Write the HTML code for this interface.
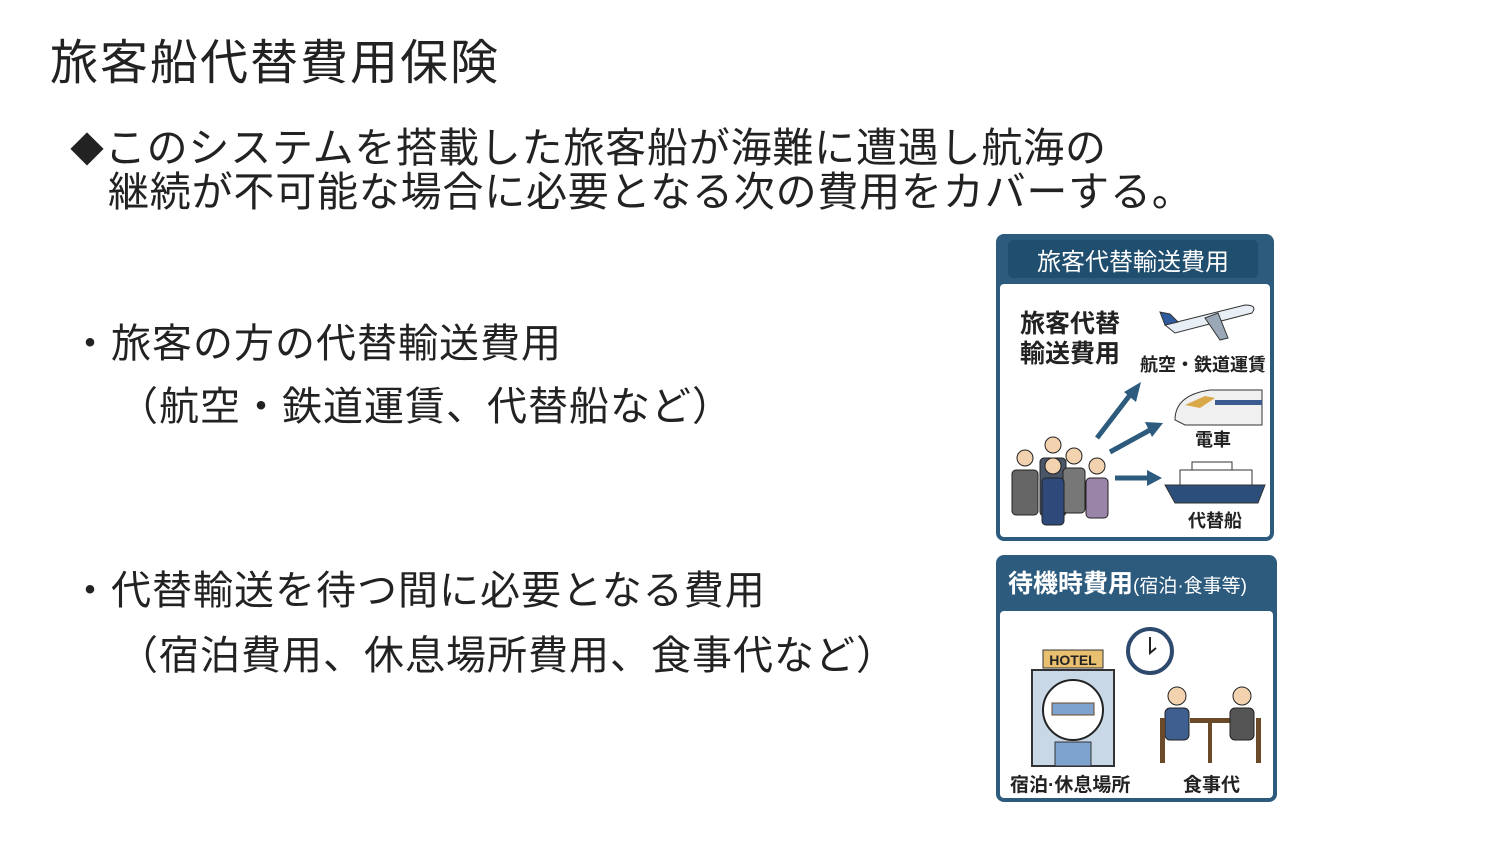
<!DOCTYPE html>
<html><head><meta charset="utf-8"><style>
body{margin:0;width:1500px;height:844px;background:#fff;position:relative;overflow:hidden;font-family:"Liberation Sans","Noto Sans CJK JP",sans-serif;color:#222}
.t{position:absolute;white-space:nowrap;line-height:1}
</style></head><body>
<div class="t" style="left:50px;top:40px;font-size:48px;letter-spacing:2px">旅客船代替費用保険</div>
<div class="t" style="left:70px;top:128px;font-size:41px;letter-spacing:0.8px"><span style="font-size:34px">◆</span>このシステムを搭載した旅客船が海難に遭遇し航海の</div>
<div class="t" style="left:108px;top:172px;font-size:41px;letter-spacing:0.8px">継続が不可能な場合に必要となる次の費用をカバーする。</div>
<div class="t" style="left:70px;top:324px;font-size:40px;letter-spacing:1px">・旅客の方の代替輸送費用</div>
<div class="t" style="left:118px;top:387px;font-size:40px;letter-spacing:1px">（航空・鉄道運賃、代替船など）</div>
<div class="t" style="left:70px;top:571px;font-size:40px;letter-spacing:1px">・代替輸送を待つ間に必要となる費用</div>
<div class="t" style="left:118px;top:636px;font-size:40px;letter-spacing:1px">（宿泊費用、休息場所費用、食事代など）</div>

<svg style="position:absolute;left:0;top:0" width="1500" height="844" font-family="Liberation Sans,Noto Sans CJK JP,sans-serif">
<rect x="996" y="234" width="278" height="307" rx="8" fill="#2d5b7e"/>
<rect x="1000" y="284" width="270" height="253" rx="4" fill="#fff"/>
<rect x="1008" y="240" width="250" height="38" rx="5" fill="#1f4e6e"/>
<text x="1133" y="270" font-size="24" fill="#fff" text-anchor="middle">旅客代替輸送費用</text>
<text x="1020" y="332" font-size="25" font-weight="bold" fill="#222">旅客代替</text>
<text x="1020" y="362" font-size="25" font-weight="bold" fill="#222">輸送費用</text>
<path d="M1165 325 L1245 305 Q1258 305 1252 313 L1175 333 Z" fill="#e8eef5" stroke="#333"/>
<path d="M1205 318 L1220 340 L1228 338 L1218 313Z" fill="#9aa8b8" stroke="#333"/>
<path d="M1165 325 L1160 312 L1170 314 L1178 322Z" fill="#2d5b9e" stroke="#333"/>
<text x="1140" y="371" font-size="18" font-weight="bold" fill="#222">航空・鉄道運賃</text>
<path d="M1175 420 Q1175 395 1210 390 L1262 390 L1262 425 L1185 425 Z" fill="#f0f0f0" stroke="#333"/>
<path d="M1185 405 L1205 396 L1215 398 L1200 408Z" fill="#d9a848"/>
<rect x="1215" y="400" width="47" height="5" fill="#3a5a90"/>
<text x="1195" y="446" font-size="18" font-weight="bold" fill="#222">電車</text>
<path d="M1165 485 L1265 485 L1258 503 L1175 503 Z" fill="#2b4f7a" stroke="#333"/>
<rect x="1180" y="470" width="72" height="15" fill="#fff" stroke="#333"/>
<rect x="1192" y="462" width="40" height="8" fill="#fff" stroke="#333"/>
<text x="1188" y="527" font-size="18" font-weight="bold" fill="#222">代替船</text>
<g stroke="#2d5b7e" stroke-width="5" fill="#2d5b7e">
<line x1="1097" y1="438" x2="1130" y2="395"/><line x1="1110" y1="452" x2="1150" y2="430"/><line x1="1115" y1="478" x2="1150" y2="478"/>
</g>
<polygon points="1141,382 1124,392 1136,402" fill="#2d5b7e"/>
<polygon points="1163,423 1145,422 1152,437" fill="#2d5b7e"/>
<polygon points="1162,478 1147,470 1147,486" fill="#2d5b7e"/>
<g stroke="#222" stroke-width="1">
<rect x="1012" y="470" width="26" height="45" rx="4" fill="#666"/><circle cx="1025" cy="458" r="8" fill="#f3d2b0"/>
<rect x="1040" y="458" width="26" height="58" rx="4" fill="#4a5568"/><circle cx="1053" cy="445" r="8" fill="#f3d2b0"/>
<rect x="1063" y="468" width="22" height="45" rx="4" fill="#777"/><circle cx="1074" cy="456" r="8" fill="#f3d2b0"/>
<rect x="1042" y="478" width="22" height="47" rx="4" fill="#2f4a7a"/><circle cx="1053" cy="466" r="8" fill="#f3d2b0"/>
<rect x="1086" y="478" width="22" height="40" rx="4" fill="#9a85a8"/><circle cx="1097" cy="466" r="8" fill="#f3d2b0"/>
</g>
<rect x="996" y="555" width="281" height="247" rx="8" fill="#2d5b7e"/>
<rect x="1000" y="611" width="273" height="187" rx="4" fill="#fff"/>
<text x="1008" y="592" font-size="25" font-weight="bold" fill="#fff">待機時費用<tspan font-size="19" font-weight="normal">(宿泊·食事等)</tspan></text>
<circle cx="1150" cy="651" r="22" fill="#fff" stroke="#2d4a6e" stroke-width="4"/>
<path d="M1150 637 L1150 653 L1156 648" stroke="#222" stroke-width="2" fill="none"/>
<rect x="1043" y="650" width="60" height="18" fill="#e8c070" stroke="#333"/>
<text x="1073" y="665" font-size="14" font-weight="bold" fill="#222" text-anchor="middle">HOTEL</text>
<rect x="1032" y="670" width="82" height="96" fill="#c9d8e6" stroke="#333" stroke-width="2"/>
<circle cx="1073" cy="710" r="30" fill="#fff" stroke="#222" stroke-width="2"/>
<rect x="1052" y="703" width="42" height="12" fill="#7ea3cf" stroke="#6b4a2a"/>
<rect x="1055" y="742" width="36" height="24" fill="#7ea3cf" stroke="#333"/>
<text x="1010" y="791" font-size="19" font-weight="bold" fill="#222">宿泊·休息場所</text>
<rect x="1190" y="718" width="40" height="5" fill="#6b4a2a"/>
<rect x="1208" y="723" width="4" height="40" fill="#6b4a2a"/>
<rect x="1165" y="708" width="24" height="32" rx="5" fill="#3f5f90" stroke="#222"/><circle cx="1177" cy="696" r="9" fill="#f3d2b0" stroke="#222"/>
<rect x="1230" y="708" width="24" height="32" rx="5" fill="#555" stroke="#222"/><circle cx="1242" cy="696" r="9" fill="#f3d2b0" stroke="#222"/>
<rect x="1160" y="718" width="5" height="45" fill="#6b4a2a"/><rect x="1256" y="718" width="5" height="45" fill="#6b4a2a"/>
<text x="1183" y="791" font-size="19" font-weight="bold" fill="#222">食事代</text>
</svg>
</body></html>
